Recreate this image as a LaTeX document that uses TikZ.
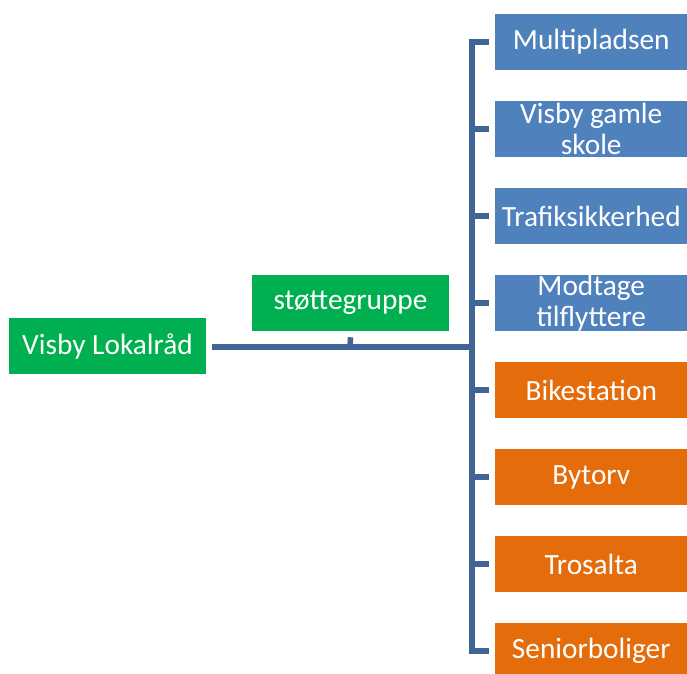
\documentclass[tikz,border=0pt]{standalone}
\usepackage{fontspec}
\setmainfont{Carlito}
\definecolor{cgreen}{HTML}{00B050}
\definecolor{cblue}{HTML}{4F81BD}
\definecolor{corange}{HTML}{E46C0A}
\definecolor{cline}{HTML}{3E6595}
\begin{document}
\begin{tikzpicture}[x=0.75pt,y=-0.75pt,
  box/.style={rectangle,inner sep=0pt,text=white,align=center,
    font=\fontsize{22}{23.5}\selectfont},
  gbox/.style={box,fill=cgreen,minimum width=197*0.75pt,minimum height=56*0.75pt},
  rbox/.style={box,minimum width=192*0.75pt,minimum height=56*0.75pt,anchor=west},
  bbox/.style={rbox,fill=cblue},
  obox/.style={rbox,fill=corange},
  conn/.style={draw=cline,line width=4.1pt,line join=miter}]
\useasboundingbox (0,0) rectangle (687,674);
\begin{scope}
\clip (0,0) rectangle (687,674);
\node[gbox] (root) at (107.5,346) {Visby Lokalråd};
\node[gbox] (stotte) at (350.5,303) {støttegruppe};
\node[bbox] (c1) at (495,42) {Multipladsen};
\node[bbox] (c2) at (495,129) {Visby gamle\\skole};
\node[bbox] (c3) at (495,216) {Trafiksikkerhed};
\node[bbox] (c4) at (495,303) {Modtage\\tilflyttere};
\node[obox] (c5) at (495,390) {Bikestation};
\node[obox] (c6) at (495,477) {Bytorv};
\node[obox] (c7) at (495,564) {Trosalta};
\node[obox] (c8) at (495,651) {Seniorboliger};
\coordinate (trunk) at (472,347);
\coordinate (mid) at (350,347);
\end{scope}
\draw[conn] ([xshift=6*0.75pt]root.east |- trunk) -- (trunk);
\draw[conn] ([yshift=-6*0.75pt]stotte.south) -- (mid);
\draw[conn] ([xshift=-6*0.75pt]c1.west) -- (trunk |- c1) -- (trunk |- c8) -- ([xshift=-6*0.75pt]c8.west);
\foreach \c in {c2,c3,c4,c5,c6,c7}
  \draw[conn] (trunk |- \c) -- ([xshift=-6*0.75pt]\c.west);
\end{tikzpicture}
\end{document}
